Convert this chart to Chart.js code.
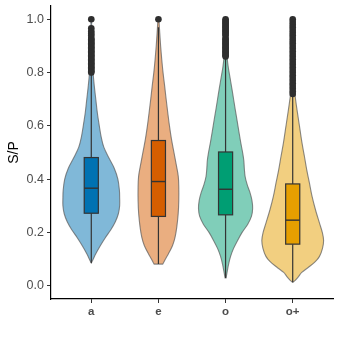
<!DOCTYPE html>
<html><head><meta charset="utf-8">
<script src="https://cdn.jsdelivr.net/npm/chart.js@4"></script>
<style>html,body{margin:0;padding:0;background:#fff}#wrap{width:345px;height:345px}</style>
</head><body><div id="wrap"><canvas id="c" width="345" height="345"></canvas></div>
<script>
// ---- data ----
const categories = ['a', 'e', 'o', 'o+'];
const yTicks = [0, 0.2, 0.4, 0.6, 0.8, 1.0];

// violin density profiles (value, relative density)
const violinA_y = [0.085,0.10,0.12,0.15,0.18,0.21,0.24,0.27,0.30,0.33,0.36,0.40,0.44,0.48,0.52,0.56,0.60,0.65,0.70,0.75,0.80,0.85,0.90,0.95,1.0];
const violinA_d = [0,2,4.5,9,14,19.5,24,27,28.3,28.3,28,26.5,23,17.5,12.5,9.8,8,6,4.5,3,1.8,1.2,0.8,0.5,0.3];
const violinE_y = [0.081,0.10,0.12,0.15,0.18,0.22,0.27,0.32,0.37,0.41,0.45,0.50,0.55,0.60,0.65,0.70,0.75,0.80,0.85,0.90,0.95,1.0];
const violinE_d = [4.3,7,10,14,16.5,18.3,19.7,20.3,20.3,19.8,18,15.5,13,11,9.3,7.7,6.2,4.6,3.3,2.2,1.3,0.5];
const violinO_y = [0.029,0.05,0.08,0.11,0.14,0.17,0.20,0.23,0.26,0.29,0.32,0.35,0.38,0.41,0.44,0.47,0.50,0.54,0.58,0.62,0.66,0.70,0.74,0.78,0.82,0.86,0.90,0.95,1.0];
const violinO_d = [0.5,1.5,3,5,8,12,16.5,22,25.8,27,26.3,24.3,21.5,19.5,18.7,18.2,17,15,13.2,11.5,9.7,8,6.3,4.5,2.7,1.5,1,0.6,0.3];
const violinOP_y = [0.0125,0.02,0.035,0.05,0.07,0.09,0.11,0.14,0.17,0.20,0.235,0.285,0.335,0.385,0.435,0.485,0.535,0.60,0.66,0.71,0.75,0.80,0.90,1.0];
const violinOP_d = [0,2.5,6,9,16,22.5,26.7,29.7,30.8,29.5,26.7,22.7,19.3,16.7,14,11.7,9.3,6.7,4.3,2.5,1.8,1.3,0.8,0.3];

// box plot statistics
const q1 = [0.272, 0.260, 0.266, 0.156];
const medians = [0.366, 0.391, 0.362, 0.246];
const q3 = [0.481, 0.545, 0.502, 0.382];
const whiskerLow = [0.085, 0.081, 0.029, 0.0125];
const whiskerHigh = [0.795, 0.97, 0.856, 0.72];

// outliers
const outliersA = [1.0,0.966,0.955,0.947,0.94,0.93,0.925,0.92,0.915,0.91,0.905,0.90,0.895,0.89,0.885,0.88,0.875,0.87,0.865,0.86,0.855,0.85,0.845,0.84,0.835,0.83,0.825,0.82,0.815,0.81,0.805,0.80];
const outliersE = [1.0];
const outliersO = [1.0,0.995,0.99,0.985,0.98,0.975,0.97,0.965,0.96,0.955,0.95,0.945,0.94,0.93,0.925,0.92,0.915,0.91,0.905,0.90,0.895,0.89,0.885,0.88,0.875,0.87,0.865,0.86];
const outliersOP = [1.0,0.99,0.98,0.97,0.96,0.95,0.94,0.93,0.92,0.91,0.90,0.89,0.88,0.87,0.86,0.85,0.84,0.83,0.82,0.81,0.80,0.79,0.78,0.77,0.76,0.75,0.74,0.73,0.72];

// ---- styles ----
const boxColors = ['#0072B2', '#D55E00', '#009E73', '#E69F00'];
const violinColors = ['#80B8D8', '#EAAE80', '#80CEB9', '#F2CF80'];
const VIOLIN_HALF = 0.46;   // max half width in category units
const BOX_HALF = 0.105;

const violins = [
  {y: violinA_y, d: violinA_d},
  {y: violinE_y, d: violinE_d},
  {y: violinO_y, d: violinO_d},
  {y: violinOP_y, d: violinOP_d}
];
const outliers = [outliersA, outliersE, outliersO, outliersOP];
const maxD = Math.max(...violins.map(v => Math.max(...v.d)));

function splineTo(ctx, pts) {
  for (let i = 0; i < pts.length - 1; i++) {
    const p0 = pts[i - 1] || pts[i], p1 = pts[i], p2 = pts[i + 1], p3 = pts[i + 2] || pts[i + 1];
    ctx.bezierCurveTo(p1[0] + (p2[0] - p0[0]) / 6, p1[1] + (p2[1] - p0[1]) / 6,
                      p2[0] - (p3[0] - p1[0]) / 6, p2[1] - (p3[1] - p1[1]) / 6, p2[0], p2[1]);
  }
}

const violinPlugin = {
  id: 'violinBox',
  beforeDatasetsDraw(chart) {
    const {ctx, scales: {x, y}} = chart;
    ctx.save();
    violins.forEach((v, i) => {
      const cx = i + 1;
      const left = v.y.map((yy, k) => [x.getPixelForValue(cx - v.d[k] / maxD * VIOLIN_HALF), y.getPixelForValue(yy)]);
      const right = v.y.map((yy, k) => [x.getPixelForValue(cx + v.d[k] / maxD * VIOLIN_HALF), y.getPixelForValue(yy)]).reverse();
      ctx.beginPath();
      ctx.moveTo(left[0][0], left[0][1]);
      splineTo(ctx, left);
      ctx.lineTo(right[0][0], right[0][1]);
      splineTo(ctx, right);
      ctx.closePath();
      ctx.fillStyle = violinColors[i];
      ctx.fill();
      ctx.strokeStyle = 'rgba(90,90,90,0.7)';
      ctx.lineWidth = 1.1;
      ctx.stroke();

      // whiskers
      const px = x.getPixelForValue(cx);
      ctx.strokeStyle = '#333333';
      ctx.lineWidth = 1.2;
      ctx.beginPath();
      ctx.moveTo(px, y.getPixelForValue(whiskerLow[i]));
      ctx.lineTo(px, y.getPixelForValue(q1[i]));
      ctx.moveTo(px, y.getPixelForValue(q3[i]));
      ctx.lineTo(px, y.getPixelForValue(whiskerHigh[i]));
      ctx.stroke();

      // box
      const bl = x.getPixelForValue(cx - BOX_HALF), br = x.getPixelForValue(cx + BOX_HALF);
      const bt = y.getPixelForValue(q3[i]), bb = y.getPixelForValue(q1[i]);
      ctx.fillStyle = boxColors[i];
      ctx.fillRect(bl, bt, br - bl, bb - bt);
      ctx.strokeRect(bl, bt, br - bl, bb - bt);
      const pm = y.getPixelForValue(medians[i]);
      ctx.lineWidth = 1.4;
      ctx.beginPath();
      ctx.moveTo(bl, pm);
      ctx.lineTo(br, pm);
      ctx.stroke();
    });
    ctx.restore();
  }
};

const datasets = outliers.map((arr, i) => ({
  type: 'scatter',
  data: arr.map(v => ({x: i + 1, y: v})),
  pointRadius: 3.3,
  pointBackgroundColor: '#2e2e2e',
  pointBorderWidth: 0,
  pointHoverRadius: 3.3
}));

new Chart(document.getElementById('c'), {
  type: 'scatter',
  data: {datasets},
  options: {
    responsive: false,
    devicePixelRatio: 1,
    animation: false,
    layout: {padding: {left: 0, top: 6, right: 12, bottom: 0}},
    plugins: {legend: {display: false}, tooltip: {enabled: false}},
    scales: {
      x: {
        type: 'linear', min: 0.4, max: 4.6,
        afterBuildTicks: s => { s.ticks = categories.map((c, i) => ({value: i + 1})); },
        afterFit: s => { s.height = 46; s.paddingLeft = 0; s.paddingRight = 0; },
        ticks: {
          callback: v => categories[v - 1],
          color: '#4D4D4D',
          font: {family: 'Liberation Sans', size: 11.5, weight: 'bold'},
          padding: 2, maxRotation: 0, autoSkip: false
        },
        grid: {drawOnChartArea: false, drawTicks: true, tickLength: 4, color: '#333333', lineWidth: 1},
        border: {display: true, color: '#000000', width: 1.2}
      },
      y: {
        type: 'linear', min: -0.05, max: 1.05,
        afterBuildTicks: s => { s.ticks = yTicks.map(v => ({value: v})); },
        afterFit: s => { s.width = 51; s.paddingTop = 0; s.paddingBottom = 0; },
        ticks: {
          callback: v => Number(v).toFixed(1),
          color: '#4D4D4D',
          font: {family: 'Liberation Sans', size: 12.5},
          padding: 3
        },
        title: {
          display: true, text: 'S/P', color: '#000000',
          font: {family: 'Liberation Sans', size: 14},
          padding: {top: 6, bottom: 0}
        },
        grid: {drawOnChartArea: false, drawTicks: true, tickLength: 4, color: '#333333', lineWidth: 1},
        border: {display: true, color: '#000000', width: 1.2}
      }
    }
  },
  plugins: [violinPlugin]
});
</script>
</body></html>
